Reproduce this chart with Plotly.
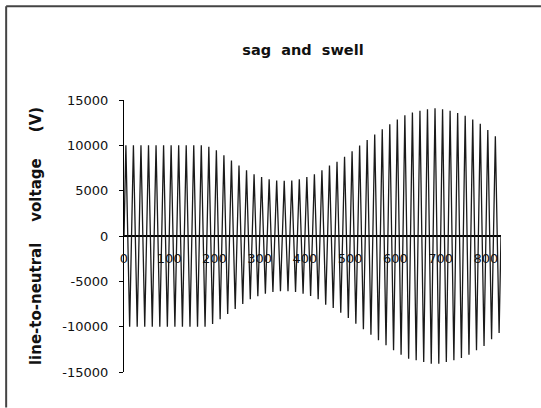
import plotly.graph_objects as go

# ---- data ----
period_ms = 16.667          # 60 Hz cycle length (ms)
n_cycles = 50
# peak magnitude (V) of each half cycle, in time order (positive, negative, ...)
half_cycle_peaks = [
    10000, 10000, 10000, 10000, 10000, 10000, 10000, 10000, 10000, 10000,
    10000, 10000, 10000, 10000, 10000, 10000, 10000, 10000, 10000, 10000,
    10000, 10000, 9850, 9700, 9450, 9180, 8900, 8600, 8330, 8050,
    7780, 7500, 7240, 6980, 6800, 6650, 6500, 6360, 6250, 6170,
    6130, 6100, 6100, 6100, 6130, 6170, 6270, 6360, 6500, 6620,
    6800, 6980, 7250, 7570, 7760, 7940, 8200, 8460, 8750, 9040,
    9350, 9670, 9980, 10290, 10580, 10880, 11190, 11500, 11780, 12050,
    12330, 12600, 12850, 13090, 13310, 13530, 13620, 13700, 13800, 13890,
    13990, 14080, 14080, 14080, 13990, 13890, 13800, 13700, 13570, 13450,
    13270, 13090, 12850, 12600, 12370, 12130, 11700, 11400, 11000, 10700,
]
x_ticks = [0, 100, 200, 300, 400, 500, 600, 700, 800]
y_ticks = [15000, 10000, 5000, 0, -5000, -10000, -15000]
y_tick_text = ["15000", "10000", "5000", "0", "-5000", "-10000", "-15000"]
title_text = "sag\u00a0\u00a0and\u00a0\u00a0swell"
y_title = "line-to-neutral\u00a0\u00a0\u00a0\u00a0voltage\u00a0\u00a0\u00a0\u00a0\u00a0(V)"

# waveform samples: zero crossings and peaks of each half cycle
t_vals, v_vals = [0.0], [0.0]
quarter = period_ms / 4
for h, a in enumerate(half_cycle_peaks):
    sign = 1 if h % 2 == 0 else -1
    t_vals.append((2 * h + 1) * quarter)
    v_vals.append(sign * a)
    t_vals.append((2 * h + 2) * quarter)
    v_vals.append(0.0)

W, H = 541, 408
ml, mr, mt, mb = 123.5, 40, 100, 35.5
x_max = n_cycles * period_ms

fig = go.Figure()
fig.add_trace(go.Scatter(x=t_vals, y=v_vals, mode="lines",
                         line=dict(color="#1a1a1a", width=1.3),
                         hoverinfo="skip", showlegend=False))

pw = W - ml - mr
ph = H - mt - mb
def px_to_dom_x(px):
    return (px - ml) / pw
def py_to_dom_y(py):
    return (H - mb - py) / ph

fig.update_layout(
    width=W, height=H,
    margin=dict(l=ml, r=mr, t=mt, b=mb, pad=0),
    paper_bgcolor="white", plot_bgcolor="white",
    font=dict(family="DejaVu Sans", size=13, color="#111"),
    title=dict(text=title_text, x=303 / W, xref="container",
               y=1 - 50 / H, yref="container", xanchor="center", yanchor="middle",
               font=dict(family="DejaVu Sans", size=14.5, color="#111", weight="bold")),
    xaxis=dict(range=[0, x_max], showgrid=False, zeroline=False, showline=False,
               tickvals=x_ticks, ticks="", anchor="free",
               position=py_to_dom_y(236), ticklabelstandoff=13,
               tickfont=dict(family="DejaVu Sans", size=13, color="#111")),
    yaxis=dict(range=[-15000, 15000], showgrid=False,
               zeroline=True, zerolinecolor="#000", zerolinewidth=1.6,
               showline=True, linecolor="#000", linewidth=1,
               tickvals=y_ticks, ticktext=y_tick_text,
               ticks="outside", ticklen=4, tickwidth=1, tickcolor="#000",
               ticklabelstandoff=8,
               tickfont=dict(family="DejaVu Sans", size=13, color="#111"),
               title=dict(text=y_title, standoff=17,
                          font=dict(family="DejaVu Sans", size=15, color="#111",
                                    weight="bold"))),
)
# page frame (top and left edges of the scanned page box)
fig.add_shape(type="line", xref="x domain", yref="y domain",
              x0=px_to_dom_x(5.5), x1=px_to_dom_x(541),
              y0=py_to_dom_y(6), y1=py_to_dom_y(6),
              line=dict(color="#444", width=2))
fig.add_shape(type="line", xref="x domain", yref="y domain",
              x0=px_to_dom_x(5.5), x1=px_to_dom_x(5.5),
              y0=py_to_dom_y(6), y1=py_to_dom_y(408),
              line=dict(color="#444", width=2))

fig.write_html("out.html", config={"displayModeBar": False},
               post_script="document.body.style.margin='0';document.body.style.padding='0';")
